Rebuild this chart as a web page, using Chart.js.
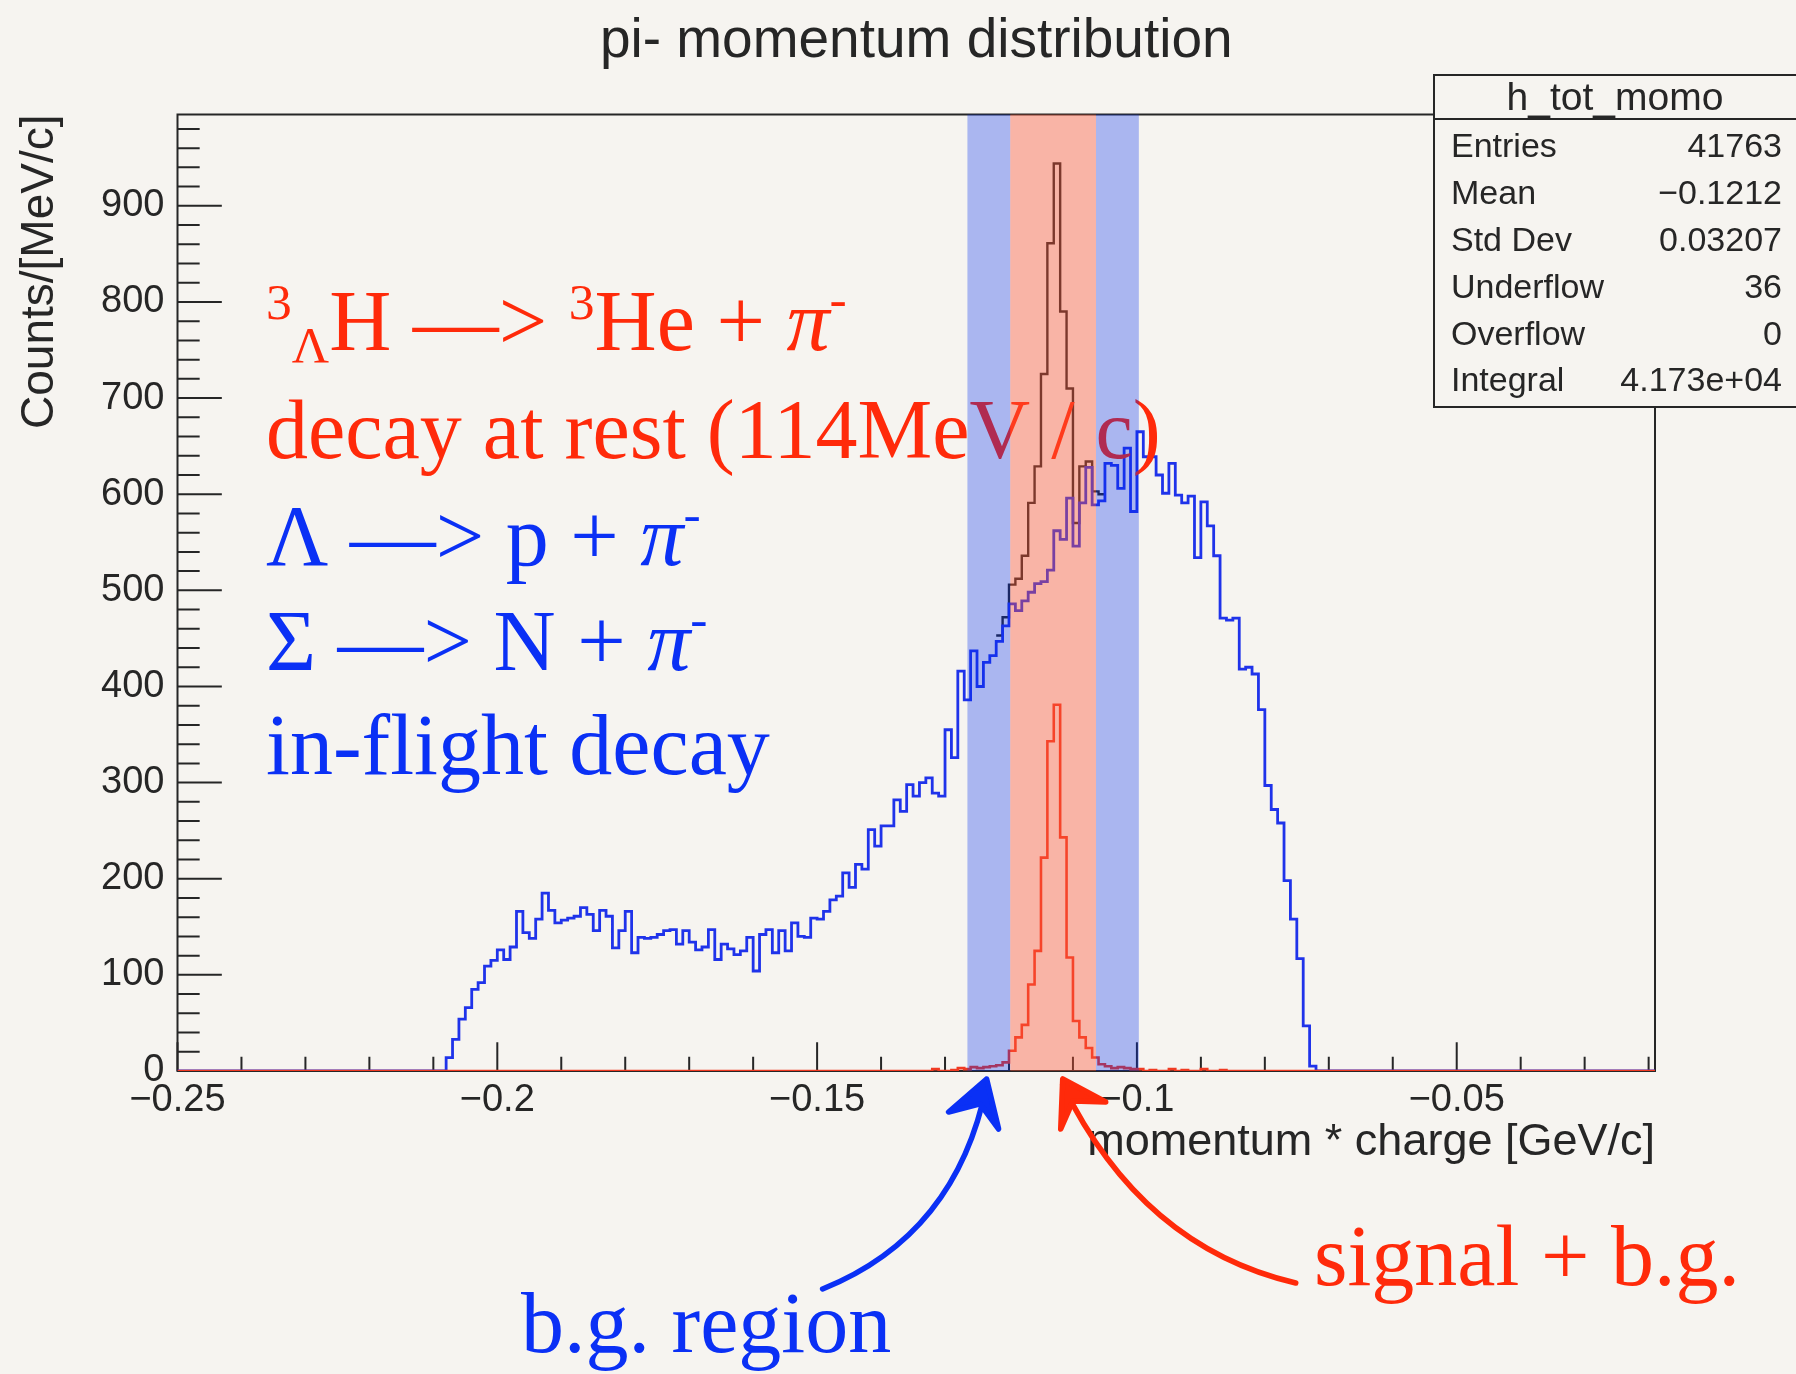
<!DOCTYPE html>
<html>
<head>
<meta charset="utf-8">
<title>pi- momentum distribution</title>
<script src="https://cdn.jsdelivr.net/npm/chart.js@4.4.1/dist/chart.umd.min.js"></script>
<style>
  html, body { margin: 0; padding: 0; background: #f6f4f0; }
  #wrap { width: 1796px; height: 1374px; }
</style>
</head>
<body>
<div id="wrap"><canvas id="momo" width="1796" height="1374"></canvas></div>
<script>
// --- data (counts per 1 MeV/c bin) ---
const binWidth = 0.001;

// blue: h_tot_momo, first bin starts at -0.208
const totalFirstEdge = -0.208;
const totalCounts = [
  14, 33, 54, 66, 85, 92, 109, 115, 126, 116,
  129, 166, 144, 138, 158, 185, 167, 154, 157, 159,
  161, 170, 163, 146, 167, 161, 128, 146, 166, 123,
  139, 138, 139, 142, 146, 147, 132, 146, 134, 126,
  129, 147, 116, 132, 127, 121, 125, 139, 104, 142,
  147, 123, 146, 125, 154, 140, 139, 159, 158, 166,
  178, 182, 206, 191, 215, 210, 251, 234, 255, 255,
  282, 270, 298, 286, 300, 305, 289, 286, 355, 326,
  416, 386, 437, 400, 425, 432, 447, 463, 486, 479,
  489, 498, 507, 509, 521, 562, 553, 596, 546, 591,
  628, 589, 593, 632, 630, 606, 648, 582, 665, 639,
  639, 620, 601, 632, 599, 591, 598, 534, 592, 567,
  536, 471, 469, 471, 418, 420, 413, 376, 297, 272,
  258, 198, 158, 117, 47, 5, 0
];

// red: signal peak, first bin starts at -0.132
const signalFirstEdge = -0.132;
const signalCounts = [
  2, 0, 0, 1, 3, 2, 4, 3, 4, 5,
  6, 9, 21, 35, 48, 90, 125, 222, 343, 381,
  243, 118, 52, 35, 24, 14, 7, 5, 3, 4,
  3, 2, 2, 0, 1, 0, 0, 2, 0, 1,
  0, 0, 2, 0, 0, 1
];

// dark line: signal + background around the peak, first bin starts at -0.122
const sumFirstEdge = -0.122;
const sumCounts = [453, 472, 506, 512, 536, 591, 629, 725, 861, 944, 790, 710, 570, 629, 634, 603, 600];

// shaded regions: b.g. | signal + b.g. | b.g.
const bandEdges = [-0.1265, -0.1198, -0.1064, -0.0997];

const xMin = -0.25, xMax = -0.019;
const yMin = 0, yMax = 995;
const xTickValues = [-0.25, -0.2, -0.15, -0.1, -0.05];
const xTickLabels = ['\u22120.25', '\u22120.2', '\u22120.15', '\u22120.1', '\u22120.05'];
const yTickValues = [0, 100, 200, 300, 400, 500, 600, 700, 800, 900];
const yTickLabels = ['0', '100', '200', '300', '400', '500', '600', '700', '800', '900'];

const statsTitle = 'h_tot_momo';
const statsLabels = ['Entries', 'Mean', 'Std Dev', 'Underflow', 'Overflow', 'Integral'];
const statsValues = ['41763', '\u22120.1212', '0.03207', '36', '0', '4.173e+04'];

// arrow targets on the x axis
const bgArrowAt = -0.1235;
const sigArrowAt = -0.1116;

// --- style ---
const PAPER = '#f6f4f0';
const INK = '#262626';
const BLUE = '#1f33ea';
const RED = '#f03a22';
const TXT_RED = '#ff2a0a';
const TXT_BLUE = '#0a30f5';
const SERIF = "'Liberation Serif', 'Times New Roman', serif";
const SANS = "'Liberation Sans', Arial, Helvetica, sans-serif";

Chart.defaults.font.family = SANS;
Chart.defaults.color = INK;

function histPoints(firstEdge, counts, padToAxis) {
  const pts = [];
  if (padToAxis) pts.push({x: xMin, y: 0});
  counts.forEach((c, i) => pts.push({x: firstEdge + i * binWidth, y: c}));
  const end = firstEdge + counts.length * binWidth;
  pts.push({x: end, y: padToAxis ? 0 : counts[counts.length - 1]});
  if (padToAxis) pts.push({x: xMax, y: 0});
  return pts;
}

// text with super/subscripts
function drawRuns(ctx, x, y, runs, size, color) {
  ctx.fillStyle = color;
  ctx.textAlign = 'left';
  ctx.textBaseline = 'alphabetic';
  let cx = x;
  runs.forEach(r => {
    const s = size * (r.scale || 1);
    ctx.font = (r.italic ? 'italic ' : '') + s + 'px ' + SERIF;
    ctx.fillText(r.t, cx, y - (r.rise || 0) * size);
    cx += ctx.measureText(r.t).width;
  });
}

function drawArrow(ctx, tip, tail, ctrl, barbL, barbR, color) {
  ctx.strokeStyle = color;
  ctx.fillStyle = color;
  ctx.lineWidth = 5.5;
  ctx.lineCap = 'round';
  ctx.lineJoin = 'round';
  ctx.beginPath();
  ctx.moveTo(tip.x + tail[0], tip.y + tail[1]);
  ctx.quadraticCurveTo(tip.x + ctrl[0], tip.y + ctrl[1], tip.x, tip.y + 6);
  ctx.stroke();
  ctx.beginPath();
  ctx.moveTo(tip.x, tip.y);
  ctx.lineTo(tip.x + barbL[0], tip.y + barbL[1]);
  ctx.lineTo(tip.x + (barbL[0] + barbR[0]) * 0.25, tip.y + (barbL[1] + barbR[1]) * 0.3);
  ctx.lineTo(tip.x + barbR[0], tip.y + barbR[1]);
  ctx.closePath();
  ctx.fill();
  ctx.stroke();
}

const rootLook = {
  id: 'rootLook',
  beforeDraw(chart) {
    const ctx = chart.ctx;
    ctx.save();
    ctx.fillStyle = PAPER;
    ctx.fillRect(0, 0, chart.width, chart.height);
    ctx.restore();
  },
  beforeDatasetsDraw(chart) {
    const {ctx, chartArea: a, scales: {x, y}} = chart;
    ctx.save();
    ctx.strokeStyle = INK;
    ctx.lineWidth = 2;
    ctx.strokeRect(a.left, a.top, a.right - a.left, a.bottom - a.top);
    // ROOT style ticks pointing inside
    const yLen = 0.03 * (a.right - a.left);
    const xLen = 0.03 * (a.bottom - a.top);
    ctx.beginPath();
    for (let v = 0; v <= yMax; v += 20) {
      const py = y.getPixelForValue(v);
      ctx.moveTo(a.left, py);
      ctx.lineTo(a.left + (v % 100 === 0 ? yLen : yLen / 2), py);
    }
    for (let i = 0; xMin + i * 0.01 <= xMax + 1e-9; i++) {
      const px = x.getPixelForValue(xMin + i * 0.01);
      ctx.moveTo(px, a.bottom);
      ctx.lineTo(px, a.bottom - (i % 5 === 0 ? xLen : xLen / 2));
    }
    ctx.stroke();
    ctx.restore();
  },
  afterDraw(chart) {
    const {ctx, chartArea: a, scales: {x}} = chart;
    ctx.save();

    // annotations
    const fs = 86;
    drawRuns(ctx, 266, 350, [
      {t: '3', scale: 0.6, rise: 0.36}, {t: '\u039b', scale: 0.6, rise: -0.14}, {t: 'H'},
      {t: ' \u2014> '}, {t: '3', scale: 0.6, rise: 0.36}, {t: 'He + '},
      {t: '\u03c0', italic: true}, {t: '-', scale: 0.6, rise: 0.4}
    ], fs, TXT_RED);
    drawRuns(ctx, 266, 458, [{t: 'decay at rest (114MeV / c)'}], 84, TXT_RED);
    drawRuns(ctx, 266, 565, [
      {t: '\u039b \u2014> p + '}, {t: '\u03c0', italic: true}, {t: '-', scale: 0.6, rise: 0.4}
    ], fs, TXT_BLUE);
    drawRuns(ctx, 266, 670, [
      {t: '\u03a3 \u2014> N + '}, {t: '\u03c0', italic: true}, {t: '-', scale: 0.6, rise: 0.4}
    ], fs, TXT_BLUE);
    drawRuns(ctx, 266, 774, [{t: 'in-flight decay'}], fs, TXT_BLUE);

    // shaded regions on top
    const bandColors = ['rgba(0,44,242,0.31)', 'rgba(255,85,54,0.40)', 'rgba(0,44,242,0.31)'];
    for (let i = 0; i < 3; i++) {
      const l = x.getPixelForValue(bandEdges[i]);
      const r = x.getPixelForValue(bandEdges[i + 1]);
      ctx.fillStyle = bandColors[i];
      ctx.fillRect(l, a.top, r - l, a.bottom - a.top);
    }

    // stats box
    const bx = 1434, by = 75, bw = 400, bh = 332;
    ctx.fillStyle = PAPER;
    ctx.fillRect(bx, by, bw, bh);
    ctx.strokeStyle = INK;
    ctx.lineWidth = 2;
    ctx.strokeRect(bx, by, bw, bh);
    ctx.beginPath();
    ctx.moveTo(bx, 119);
    ctx.lineTo(bx + bw, 119);
    ctx.stroke();
    ctx.fillStyle = INK;
    ctx.textBaseline = 'middle';
    ctx.textAlign = 'center';
    ctx.font = '39px ' + SANS;
    ctx.fillText(statsTitle, 1615, 99);
    ctx.font = '34px ' + SANS;
    statsLabels.forEach((lab, i) => {
      const ry = 148 + i * 46.8;
      ctx.textAlign = 'left';
      ctx.fillText(lab, 1451, ry);
      ctx.textAlign = 'right';
      ctx.fillText(statsValues[i], 1782, ry);
    });

    // arrows
    const base = a.bottom + 8;
    drawArrow(ctx, {x: x.getPixelForValue(bgArrowAt), y: base},
      [-164, 210], [-30, 156], [-38, 33], [12, 50], TXT_BLUE);
    drawArrow(ctx, {x: x.getPixelForValue(sigArrowAt), y: base},
      [233, 204], [79, 168], [-2, 50], [43, 23], TXT_RED);

    drawRuns(ctx, 521, 1352, [{t: 'b.g. region'}], fs, TXT_BLUE);
    drawRuns(ctx, 1314, 1285, [{t: 'signal + b.g.'}], fs, TXT_RED);
    ctx.restore();
  }
};

new Chart(document.getElementById('momo'), {
  type: 'line',
  data: {
    datasets: [
      {label: 'signal', data: histPoints(signalFirstEdge, signalCounts, true),
       borderColor: RED, borderWidth: 2.6, stepped: 'before', pointRadius: 0, fill: false},
      {label: 'h_tot_momo', data: histPoints(totalFirstEdge, totalCounts, true),
       borderColor: BLUE, borderWidth: 2.8, stepped: 'before', pointRadius: 0, fill: false},
      {label: 'sum', data: histPoints(sumFirstEdge, sumCounts, false),
       borderColor: INK, borderWidth: 2.4, stepped: 'before', pointRadius: 0, fill: false}
    ]
  },
  options: {
    responsive: false,
    animation: false,
    events: [],
    layout: {padding: {top: 0, right: 141, bottom: 0, left: 0}},
    plugins: {
      legend: {display: false},
      tooltip: {enabled: false},
      title: {
        display: true,
        fullSize: false,
        text: 'pi- momentum distribution',
        color: INK,
        font: {size: 55, weight: 'normal'},
        padding: {top: 9, bottom: 39.5}
      }
    },
    scales: {
      x: {
        type: 'linear',
        min: xMin,
        max: xMax,
        grid: {display: false, drawTicks: false},
        border: {display: false},
        afterBuildTicks: s => { s.ticks = xTickValues.map(v => ({value: v})); },
        ticks: {
          autoSkip: false,
          maxRotation: 0,
          padding: 7,
          color: INK,
          font: {size: 38},
          callback: v => {
            const i = xTickValues.findIndex(t => Math.abs(t - v) < 1e-6);
            return i >= 0 ? xTickLabels[i] : '';
          }
        },
        title: {
          display: true,
          text: 'momentum * charge [GeV/c]',
          align: 'end',
          color: INK,
          font: {size: 45},
          padding: {top: 0, bottom: 204}
        },
        afterFit: s => { s.height = 303; }
      },
      y: {
        type: 'linear',
        min: yMin,
        max: yMax,
        grid: {display: false, drawTicks: false},
        border: {display: false},
        afterBuildTicks: s => { s.ticks = yTickValues.map(v => ({value: v})); },
        ticks: {
          autoSkip: false,
          padding: 13,
          color: INK,
          font: {size: 38},
          callback: v => {
            const i = yTickValues.indexOf(v);
            return i >= 0 ? yTickLabels[i] : '';
          }
        },
        title: {
          display: true,
          text: 'Counts/[MeV/c]',
          align: 'end',
          color: INK,
          font: {size: 46},
          padding: {top: 13, bottom: 0}
        },
        afterFit: s => { s.width = 177.5; }
      }
    }
  },
  plugins: [rootLook]
});
</script>
</body>
</html>
